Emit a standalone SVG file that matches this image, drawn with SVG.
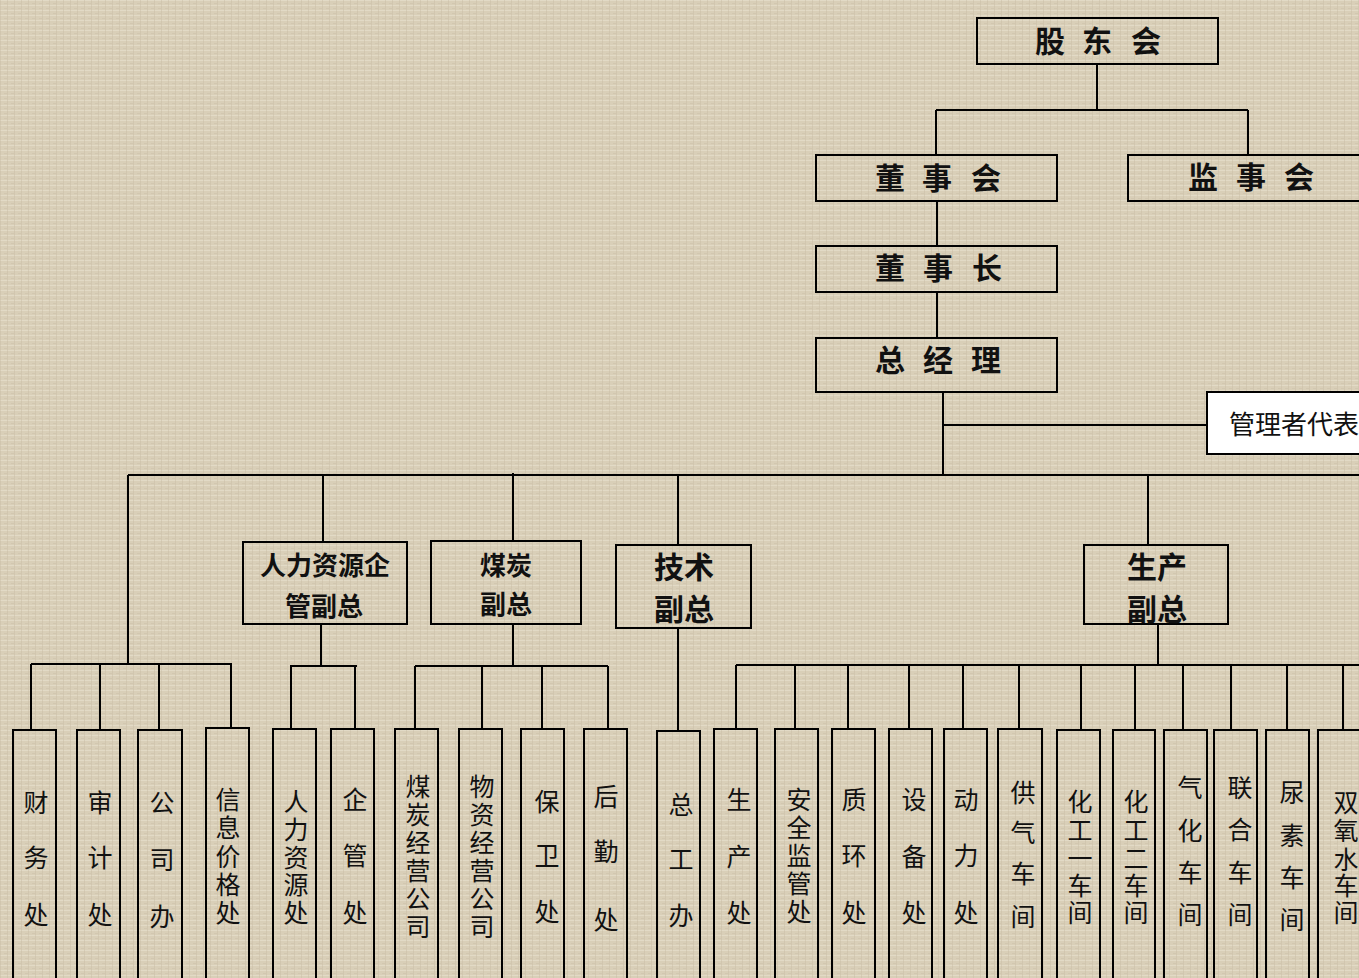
<svg xmlns="http://www.w3.org/2000/svg" width="1359" height="978" viewBox="0 0 1359 978">
<defs>
<pattern id="tex" width="7" height="5" patternUnits="userSpaceOnUse">
<rect width="7" height="5" fill="#d9cfb8"/>
<rect x="0" y="0" width="7" height="1" fill="#e6dfcc" opacity="0.7"/>
<rect x="0" y="0" width="1" height="5" fill="#c9bea5" opacity="0.5"/>
<rect x="4" y="3" width="3" height="1" fill="#cbc0a8" opacity="0.5"/>
</pattern>
<style>
.box{fill:none;stroke:#000;stroke-width:2}
.wbox{fill:#fff;stroke:#000;stroke-width:2}
.ln{fill:none;stroke:#000;stroke-width:2}
.t{font-family:"Noto Sans CJK SC","Noto Sans CJK JP",sans-serif;fill:#111;text-anchor:middle;dominant-baseline:central;transform:translateY(-2px)}
.top{font-size:30px;font-weight:700}
.mid{font-size:26px;font-weight:700}
.mid2{font-size:30px;font-weight:700}
.v{font-size:25px;font-weight:400}
</style>
</defs>
<rect width="1359" height="978" fill="url(#tex)"/>

<g id="connectors">
<path class="ln" d="M1097 64V110M936 110H1248M936 110V155M1248 110V155"/>
<path class="ln" d="M937 201V246M937 292V338"/>
<path class="ln" d="M943 392V475M943 425H1207"/>
<path class="ln" d="M128 475H1359M128 475V664M323 475V542M513 473V541M678 475V545M1148 475V545"/>
<path class="ln" d="M31 664H232M31 664V730M100 664V730M159 664V730M231 664V728"/>
<path class="ln" d="M321 624V666M290 666H357M291 666V729M355 666V729"/>
<path class="ln" d="M513 624V666M415 666H608M415 666V729M482 666V729M542 666V729M608 666V729"/>
<path class="ln" d="M678 628V731"/>
<path class="ln" d="M1158 624V665M736 665H1359M736 665V729M795 665V729M848 665V729M909 665V729M963 665V729M1019 665V729M1081 665V730M1135 665V730M1183 665V730M1231 665V730M1287 665V730M1343 665V730"/>
</g>

<g id="n-gudonghui"><rect class="box" x="977" y="18" width="241" height="46"/><text class="t top" x="1050 1097 1146" y="41">股东会</text></g>
<g id="n-dongshihui"><rect class="box" x="816" y="155" width="241" height="46"/><text class="t top" x="890 937 986" y="178">董事会</text></g>
<g id="n-jianshihui"><rect class="box" x="1128" y="155" width="260" height="46"/><text class="t top" x="1203 1251 1299" y="177">监事会</text></g>
<g id="n-dongshizhang"><rect class="box" x="816" y="246" width="241" height="46"/><text class="t top" x="890 938 987" y="268">董事长</text></g>
<g id="n-zongjingli"><rect class="box" x="816" y="338" width="241" height="54"/><text class="t top" x="890 938 986" y="360">总经理</text></g>
<g id="n-guanlizhe"><rect class="wbox" x="1207" y="392" width="180" height="62"/><text class="t" style="font-size:26px;text-anchor:start" x="1229" y="424">管理者代表</text></g>

<g id="n-renli-fz"><rect class="box" x="243" y="542" width="164" height="82"/><text class="t mid" x="325" y="565">人力资源企</text><text class="t mid" x="324" y="606">管副总</text></g>
<g id="n-meitan-fz"><rect class="box" x="431" y="541" width="150" height="83"/><text class="t mid" x="506" y="565">煤炭</text><text class="t mid" x="506" y="604">副总</text></g>
<g id="n-jishu-fz"><rect class="box" x="616" y="545" width="135" height="83"/><text class="t mid2" x="684" y="567">技术</text><text class="t mid2" x="684" y="609">副总</text></g>
<g id="n-shengchan-fz"><rect class="box" x="1084" y="545" width="144" height="79"/><text class="t mid2" x="1157" y="567">生产</text><text class="t mid2" x="1157" y="609">副总</text></g>

<g id="n-caiwu"><rect class="box" x="13" y="730" width="43" height="270"/><text class="t v" x="36 36 36" y="803 858 915">财务处</text></g>
<g id="n-shenji"><rect class="box" x="77" y="730" width="43" height="270"/><text class="t v" x="100 100 100" y="803 858 915">审计处</text></g>
<g id="n-gongsiban"><rect class="box" x="138" y="730" width="44" height="270"/><text class="t v" x="162 162 162" y="803 860 917">公司办</text></g>
<g id="n-xinxi"><rect class="box" x="206" y="728" width="43" height="272"/><text class="t v" x="228 228 228 228 228" y="800 828 857 885 913">信息价格处</text></g>
<g id="n-renliziyuan"><rect class="box" x="273" y="729" width="43" height="271"/><text class="t v" x="296 296 296 296 296" y="802 830 858 885 913">人力资源处</text></g>
<g id="n-qiguan"><rect class="box" x="331" y="729" width="43" height="271"/><text class="t v" x="355 355 355" y="800 856 913">企管处</text></g>
<g id="n-meitanjy"><rect class="box" x="395" y="729" width="43" height="271"/><text class="t v" x="418 418 418 418 418 418" y="787 815 843 871 899 927">煤炭经营公司</text></g>
<g id="n-wuzijy"><rect class="box" x="459" y="729" width="43" height="271"/><text class="t v" x="482 482 482 482 482 482" y="787 815 843 871 899 927">物资经营公司</text></g>
<g id="n-baowei"><rect class="box" x="521" y="729" width="43" height="271"/><text class="t v" x="547 547 547" y="802 856 912">保卫处</text></g>
<g id="n-houqin"><rect class="box" x="584" y="729" width="43" height="271"/><text class="t v" x="606 606 606" y="797 852 920">后勤处</text></g>
<g id="n-zonggongban"><rect class="box" x="657" y="731" width="43" height="269"/><text class="t v" x="681 681 681" y="805 860 916">总工办</text></g>
<g id="n-shengchanchu"><rect class="box" x="714" y="729" width="43" height="271"/><text class="t v" x="739 739 739" y="800 857 913">生产处</text></g>
<g id="n-anquan"><rect class="box" x="775" y="729" width="43" height="271"/><text class="t v" x="799 799 799 799 799" y="800 828 856 884 912">安全监管处</text></g>
<g id="n-zhihuan"><rect class="box" x="832" y="729" width="43" height="271"/><text class="t v" x="854 854 854" y="800 856 913">质环处</text></g>
<g id="n-shebei"><rect class="box" x="889" y="729" width="43" height="271"/><text class="t v" x="914 914 914" y="800 857 913">设备处</text></g>
<g id="n-dongli"><rect class="box" x="944" y="729" width="43" height="271"/><text class="t v" x="966 966 966" y="800 856 913">动力处</text></g>
<g id="n-gongqi"><rect class="box" x="998" y="729" width="44" height="271"/><text class="t v" x="1023 1023 1023 1023" y="793 833 874 917">供气车间</text></g>
<g id="n-huagong1"><rect class="box" x="1057" y="730" width="43" height="270"/><text class="t v" x="1080 1080 1080 1080 1080" y="802 831 859 886 913">化工一车间</text></g>
<g id="n-huagong2"><rect class="box" x="1113" y="730" width="42" height="270"/><text class="t v" x="1136 1136 1136 1136 1136" y="802 831 859 886 913">化工二车间</text></g>
<g id="n-qihua"><rect class="box" x="1164" y="730" width="43" height="270"/><text class="t v" x="1190 1190 1190 1190" y="788 831 873 915">气化车间</text></g>
<g id="n-lianhe"><rect class="box" x="1214" y="730" width="43" height="270"/><text class="t v" x="1240 1240 1240 1240" y="788 830 873 915">联合车间</text></g>
<g id="n-niaosu"><rect class="box" x="1266" y="730" width="43" height="270"/><text class="t v" x="1292 1292 1292 1292" y="793 836 878 920">尿素车间</text></g>
<g id="n-shuangyang"><rect class="box" x="1318" y="730" width="60" height="270"/><text class="t v" x="1346 1346 1346 1346 1346" y="803 831 860 886 913">双氧水车间</text></g>
</svg>
